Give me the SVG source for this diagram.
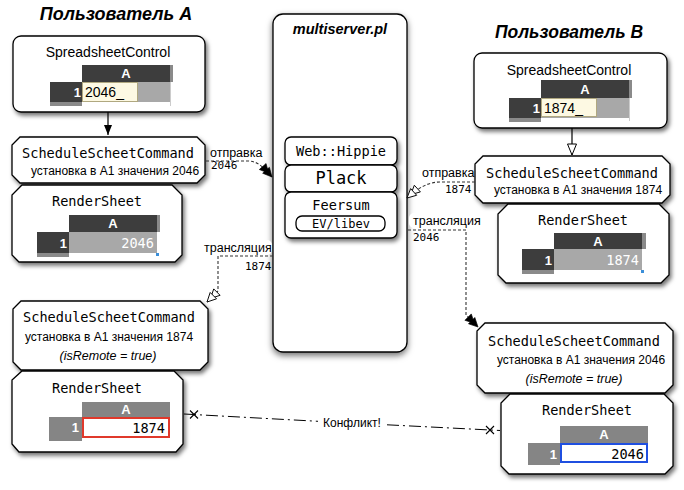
<svg xmlns="http://www.w3.org/2000/svg" width="684" height="490" viewBox="0 0 684 490">
<defs>
<style>
.box{fill:#fff;stroke:#000;stroke-width:1.3}
.title{font-family:"Liberation Sans",Arial,sans-serif;font-weight:bold;font-style:italic;font-size:17.5px;text-anchor:middle}
.sans{font-family:"Liberation Sans",Arial,sans-serif;font-size:14px;text-anchor:middle}
.ru{font-family:"Liberation Sans",Arial,sans-serif;font-size:12px;text-anchor:middle}
.it{font-family:"Liberation Sans",Arial,sans-serif;font-size:12.5px;font-style:italic;text-anchor:middle}
.mono{font-family:"DejaVu Sans Mono","Liberation Mono",monospace;font-size:13.6px;text-anchor:middle}
.lbl{font-family:"Liberation Sans",Arial,sans-serif;font-size:12.5px}
.num{font-family:"DejaVu Sans Mono","Liberation Mono",monospace;font-size:11px}
.hdr{font-family:"Liberation Sans",Arial,sans-serif;font-size:13px;font-weight:bold;fill:#fff}
.cellw{font-family:"DejaVu Sans Mono","Liberation Mono",monospace;font-size:13.6px;fill:#fff;text-anchor:end}
.cellb{font-family:"DejaVu Sans Mono","Liberation Mono",monospace;font-size:13.6px;fill:#000;text-anchor:end}
.dk{fill:#3d3d3d}
.lt{fill:#a8a8a8}
.st{fill:#8a8a8a}
.md{fill:#858585}
.dash{fill:none;stroke:#333;stroke-width:1.1;stroke-dasharray:3 2}
.solid{fill:none;stroke:#000;stroke-width:1.2}
</style>
<filter id="sh" x="-15%" y="-15%" width="135%" height="140%">
<feDropShadow dx="2" dy="3" stdDeviation="2" flood-color="#000" flood-opacity="0.55"/>
</filter>
<filter id="sh2" x="-15%" y="-5%" width="130%" height="112%">
<feDropShadow dx="0" dy="3" stdDeviation="3" flood-color="#000" flood-opacity="0.55"/>
</filter>
<marker id="fill1" markerWidth="12" markerHeight="10" refX="11" refY="5" orient="auto" markerUnits="userSpaceOnUse">
<path d="M1,1 L11,5 L1,9 z" fill="#000"/>
</marker>
<marker id="hollow1" markerWidth="14" markerHeight="12" refX="12" refY="6" orient="auto" markerUnits="userSpaceOnUse">
<path d="M1,1.5 L12,6 L1,10.5 z" fill="#fff" stroke="#000" stroke-width="1"/>
</marker>
<marker id="fill2" markerWidth="16" markerHeight="12" refX="15" refY="6" orient="auto" markerUnits="userSpaceOnUse">
<path d="M1,1.5 L10,6 L1,10.5 z M6,1.5 L15,6 L6,10.5 z" fill="#000" stroke="#000" stroke-width="0.6"/>
</marker>
<marker id="hollow2" markerWidth="16" markerHeight="12" refX="15" refY="6" orient="auto" markerUnits="userSpaceOnUse">
<path d="M1,1.5 L10,6 L1,10.5 z" fill="#fff" stroke="#000" stroke-width="0.9"/>
<path d="M6,1.5 L15,6 L6,10.5 z" fill="#fff" stroke="#000" stroke-width="0.9"/>
</marker>
<marker id="xm" markerWidth="10" markerHeight="10" refX="5" refY="5" orient="auto" markerUnits="userSpaceOnUse">
<path d="M1,1 L9,9 M1,9 L9,1" stroke="#000" stroke-width="1.1"/>
</marker>
</defs>
<rect width="684" height="490" fill="#fff"/>

<text class="title" x="116" y="20" style="font-size:18px">Пользователь А</text>
<text class="title" x="569" y="38">Пользователь B</text>

<g id="multiserver">
<rect class="box" x="273" y="14" width="134" height="338" rx="10" filter="url(#sh2)"/>
<text x="340" y="34" style="font-family:'Liberation Sans',Arial,sans-serif;font-weight:bold;font-style:italic;font-size:14.5px;text-anchor:middle">multiserver.pl</text>
<g filter="url(#sh)">
<rect class="box" x="285" y="137" width="112" height="28" rx="6"/>
<rect class="box" x="285" y="165" width="112" height="27" rx="6"/>
<rect class="box" x="285" y="192" width="112" height="46" rx="6"/>
</g>
<rect class="box" x="296" y="216" width="89" height="15" rx="6"/>
<text class="mono" x="341" y="156">Web::Hippie</text>
<text class="mono" x="341" y="184" style="font-size:17px">Plack</text>
<text class="mono" x="341" y="210">Feersum</text>
<text class="mono" x="341" y="228" style="font-size:12px">EV/libev</text>
</g>

<g id="ssA">
<rect class="box" x="13" y="36" width="192" height="76" rx="8" filter="url(#sh)"/>
<text class="sans" x="108" y="57">SpreadsheetControl</text>
<rect class="dk" x="82" y="65" width="88" height="17"/>
<rect class="st" x="170" y="65" width="3" height="17"/>
<text class="hdr" x="126" y="78" text-anchor="middle">A</text>
<rect class="dk" x="50" y="82" width="32" height="20"/>
<rect class="st" x="50" y="102" width="32" height="4"/>
<rect class="lt" x="82" y="82" width="88" height="20"/>
<line x1="170.5" y1="82" x2="170.5" y2="106" stroke="#ccc"/>
<text class="hdr" x="81" y="97" text-anchor="end">1</text>
<rect x="82.5" y="82.5" width="55" height="19" fill="#fdf9e3" stroke="#b0a880"/>
<text x="85" y="97" style="font-family:'Liberation Sans',Arial,sans-serif;font-size:14px">2046_</text>
</g>

<g id="cmdA">
<path class="box" filter="url(#sh)" d="M20,137 H197 L205,145 V175 L197,183 H20 L12,175 V145 Z"/>
<text class="mono" x="108" y="158">ScheduleScheetCommand</text>
<text class="ru" x="115" y="175">установка в А1 значения 2046</text>
</g>

<g id="rsA">
<path class="box" filter="url(#sh)" d="M22,185 H172 L182,195 V255 L175,262 H19 L12,255 V195 Z"/>
<text class="mono" x="97" y="206">RenderSheet</text>
<rect class="dk" x="69" y="215" width="88" height="17"/>
<rect class="st" x="157" y="215" width="3" height="17"/>
<text class="hdr" x="113" y="228" text-anchor="middle">A</text>
<rect class="dk" x="37" y="232" width="32" height="21"/>
<rect class="st" x="37" y="253" width="32" height="4"/>
<rect class="lt" x="69" y="232" width="88" height="21"/>
<text class="hdr" x="67" y="248" text-anchor="end">1</text>
<text class="cellw" x="154" y="248">2046</text>
<rect x="156" y="253" width="3" height="3" fill="#3b8fd9"/>
</g>

<g id="cmdA2">
<path class="box" filter="url(#sh)" d="M21,301 H200 L208,309 V362 L200,370 H21 L13,362 V309 Z"/>
<text class="mono" x="109" y="322">ScheduleScheetCommand</text>
<text class="ru" x="109" y="341">установка в А1 значения 1874</text>
<text class="it" x="108" y="360">(isRemote = true)</text>
</g>

<g id="rsA2">
<path class="box" filter="url(#sh)" d="M22,371 H174 L183,380 V444 L176,452 H19 L12,444 V380 Z"/>
<text class="mono" x="97" y="393">RenderSheet</text>
<rect class="md" x="82" y="402" width="88" height="15"/>
<text class="hdr" x="126" y="414" text-anchor="middle">A</text>
<rect class="md" x="49" y="417" width="33" height="24"/>
<text class="hdr" x="79" y="432" text-anchor="end">1</text>
<rect x="83" y="418" width="86" height="19" fill="#fff" stroke="#e0392b" stroke-width="2"/>
<text class="cellb" x="165" y="433">1874</text>
</g>

<g id="ssB">
<rect class="box" x="474" y="53" width="193" height="75" rx="8" filter="url(#sh)"/>
<text class="sans" x="569" y="75">SpreadsheetControl</text>
<rect class="dk" x="541" y="80" width="88" height="18"/>
<rect class="st" x="629" y="80" width="3" height="18"/>
<text class="hdr" x="585" y="94" text-anchor="middle">A</text>
<rect class="dk" x="509" y="98" width="32" height="20"/>
<rect class="st" x="509" y="118" width="32" height="4"/>
<rect class="lt" x="541" y="98" width="88" height="20"/>
<line x1="629.5" y1="98" x2="629.5" y2="121" stroke="#ccc"/>
<text class="hdr" x="540" y="113" text-anchor="end">1</text>
<rect x="541.5" y="98.5" width="55" height="18" fill="#fdf9e3" stroke="#b0a880"/>
<text x="544" y="113" style="font-family:'Liberation Sans',Arial,sans-serif;font-size:14px">1874_</text>
</g>

<g id="cmdB">
<path class="box" filter="url(#sh)" d="M483,156 H662 L670,164 V195 L662,203 H483 L475,195 V164 Z"/>
<text class="mono" x="572" y="178">ScheduleScheetCommand</text>
<text class="ru" x="578" y="194">установка в А1 значения 1874</text>
</g>

<g id="rsB">
<path class="box" filter="url(#sh)" d="M508,204 H659 L669,214 V275 L661,283 H506 L498,275 V214 Z"/>
<text class="mono" x="583" y="225">RenderSheet</text>
<rect class="dk" x="554" y="233" width="88" height="16"/>
<rect class="st" x="642" y="233" width="4" height="16"/>
<text class="hdr" x="598" y="246" text-anchor="middle">A</text>
<rect class="dk" x="522" y="249" width="32" height="21"/>
<rect class="st" x="522" y="270" width="32" height="4"/>
<rect class="lt" x="554" y="249" width="88" height="21"/>
<text class="hdr" x="552" y="265" text-anchor="end">1</text>
<text class="cellw" x="639" y="265">1874</text>
<rect x="641" y="270" width="3" height="3" fill="#3b8fd9"/>
</g>

<g id="cmdB2">
<path class="box" filter="url(#sh)" d="M485,323 H665 L673,331 V385 L665,393 H485 L477,385 V331 Z"/>
<text class="mono" x="574" y="346">ScheduleScheetCommand</text>
<text class="ru" x="581" y="364">установка в А1 значения 2046</text>
<text class="it" x="574" y="383">(isRemote = true)</text>
</g>

<g id="rsB2">
<path class="box" filter="url(#sh)" d="M510,394 H664 L673,403 V466 L665,474 H509 L501,466 V403 Z"/>
<text class="mono" x="587" y="415">RenderSheet</text>
<rect class="md" x="560" y="426" width="88" height="17"/>
<text class="hdr" x="604" y="439" text-anchor="middle">A</text>
<rect class="md" x="528" y="443" width="32" height="22"/>
<text class="hdr" x="557" y="459" text-anchor="end">1</text>
<rect x="561" y="444" width="86" height="18" fill="#fff" stroke="#1f4fe0" stroke-width="2"/>
<text class="cellb" x="644" y="459">2046</text>
</g>

<g id="connectors">
<path class="solid" d="M108,112 V135" marker-end="url(#fill1)"/>
<path class="solid" d="M572,128 V155" marker-end="url(#hollow1)"/>
<path class="dash" d="M206,161 H248 C258,161 264,168 272,177" marker-end="url(#fill2)"/>
<path class="dash" d="M475,182 H440 C428,182 418,188 407,198" marker-end="url(#hollow2)"/>
<rect x="409" y="213" width="71" height="15" rx="5" fill="#fff"/>
<path class="dash" d="M408,230 H466 V315 L478,327" marker-end="url(#fill2)"/>
<rect x="201" y="240" width="71" height="15" rx="5" fill="#fff"/>
<path class="dash" d="M273,256 H218 V291 L207,302" marker-end="url(#hollow2)"/>
<path d="M184,414 L318,421.3" fill="none" stroke="#000" stroke-width="1" stroke-dasharray="12 4 2 4"/>
<path d="M387,424.8 L500,430.5" fill="none" stroke="#000" stroke-width="1" stroke-dasharray="12 4 2 4"/>
<path d="M194,414.5 L194.1,414.5" marker-start="url(#xm)" stroke="none"/>
<path d="M490,430 L490.1,430" marker-start="url(#xm)" stroke="none"/>
<text class="lbl" x="210" y="157">отправка</text>
<text class="num" x="211" y="169">2046</text>
<text class="lbl" x="422" y="177">отправка</text>
<text class="num" x="445" y="193">1874</text>
<text class="lbl" x="413" y="225">трансляция</text>
<text class="num" x="413" y="241">2046</text>
<text class="lbl" x="204" y="252">трансляция</text>
<text class="num" x="245" y="270">1874</text>
<text class="lbl" x="352" y="427" text-anchor="middle" style="font-size:12px">Конфликт!</text>
</g>
</svg>
